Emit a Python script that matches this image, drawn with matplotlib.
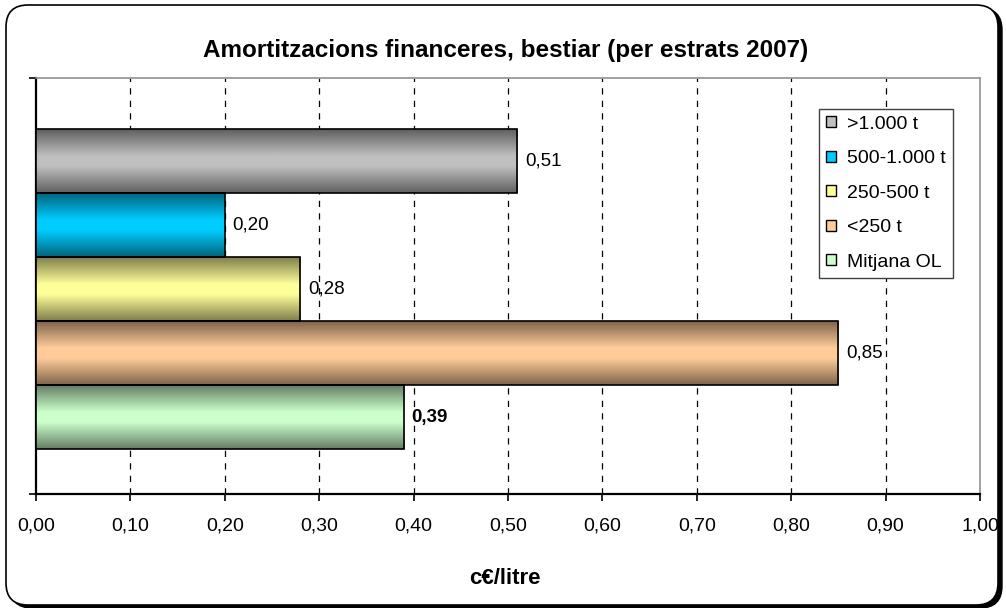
import matplotlib
matplotlib.use('Agg')
import matplotlib.pyplot as plt
import numpy as np
from matplotlib.patches import FancyBboxPatch, Patch
from matplotlib.colors import to_rgb
from matplotlib.ticker import FuncFormatter
import matplotlib.transforms as mtrans

plt.rcParams['font.family'] = ['Liberation Sans', 'DejaVu Sans']

# Dades
estrats = ['>1.000 t', '500-1.000 t', '250-500 t', '<250 t', 'Mitjana OL']
valors = [0.51, 0.20, 0.28, 0.85, 0.39]
colors = ['#C0C0C0', '#00CCFF', '#FFFF99', '#FFCC99', '#CCFFCC']
titol = 'Amortitzacions financeres, bestiar (per estrats 2007)'
eix_x = 'c€/litre'

fig = plt.figure(figsize=(10.06, 6.08), dpi=100)

# marc arrodonit amb ombra
ident = mtrans.IdentityTransform()
ombra = FancyBboxPatch((10, 0), 992, 600, boxstyle='round,pad=0,rounding_size=22',
                       transform=ident, facecolor='black', edgecolor='black', zorder=-3)
marc = FancyBboxPatch((6, 3), 992, 600, boxstyle='round,pad=0,rounding_size=22',
                      transform=ident, facecolor='white', edgecolor='black', lw=1.2, zorder=-2)
fig.patches.extend([ombra, marc])

ax = fig.add_axes([36/1006, 114/608, 944/1006, 416/608])
ax.set_facecolor('none')

n = len(valors)
ypos = np.arange(n)
alt = 1.0


def degradat(c, npts=64):
    c = np.array(to_rgb(c))
    fosc = c * 0.5
    t = np.linspace(0, 1, npts)
    w = np.clip(np.minimum(t / 0.42, (1 - t) / 0.42), 0, 1)
    return fosc[None, :] + (c - fosc)[None, :] * w[:, None]


bars = ax.barh(ypos, valors, height=alt, color='none', edgecolor='black', lw=1.2, zorder=4)
for b, v, c in zip(bars, valors, colors):
    g = degradat(c)[:, None, :]
    y0 = b.get_y()
    im = ax.imshow(g, extent=[0, v, y0 + alt, y0], aspect='auto', zorder=3,
                   interpolation='bilinear')
    im.set_clip_path(b)

ax.set_xlim(0, 1.0)
ax.set_ylim(n - 1 + 0.5 + 0.7, -0.5 - 0.8)

for i, v in enumerate(valors):
    pes = 'bold' if i == n - 1 else 'normal'
    ax.text(v + 0.008, i, f'{v:.2f}'.replace('.', ','), va='center', ha='left',
            fontsize=13.5, fontweight=pes, zorder=6)

# reixa
ax.set_xticks(np.arange(0, 1.01, 0.1))
ax.xaxis.set_major_formatter(FuncFormatter(lambda x, p: f'{x:.2f}'.replace('.', ',')))
for x in np.arange(0.1, 0.95, 0.1):
    ax.axvline(x, color='black', lw=0.9, ls=(0, (5, 5)), zorder=1)

ax.set_yticks(list(ax.get_ylim()))
ax.set_yticklabels([])
ax.tick_params(axis='x', direction='out', length=5, width=1.2, labelsize=14, pad=12)
ax.tick_params(axis='y', direction='out', length=5, width=1.2)

ax.spines['left'].set_linewidth(1.6)
ax.spines['bottom'].set_linewidth(1.6)
ax.spines['top'].set_color('#909090')
ax.spines['right'].set_color('#909090')
ax.spines['top'].set_linewidth(1.2)
ax.spines['right'].set_linewidth(1.2)

handles = [Patch(facecolor=c, edgecolor='black', lw=1) for c in colors]
leg = ax.legend(handles, estrats, loc='upper right', bbox_to_anchor=(0.9714, 0.9255),
                borderaxespad=0, fontsize=14, handlelength=0.5, handleheight=0.5,
                handletextpad=0.6, labelspacing=0.9, fancybox=False,
                edgecolor='#404040', framealpha=1, borderpad=0.35)
leg.get_frame().set_linewidth(1.0)
leg.set_zorder(10)

fig.text(0.5025, 1 - 50/608, titol, ha='center', va='center', fontsize=17.5, fontweight='bold')
fig.text(505/1006, 1 - 578/608, eix_x, ha='center', va='center', fontsize=16, fontweight='bold')

fig.savefig('out.png', dpi=100)
